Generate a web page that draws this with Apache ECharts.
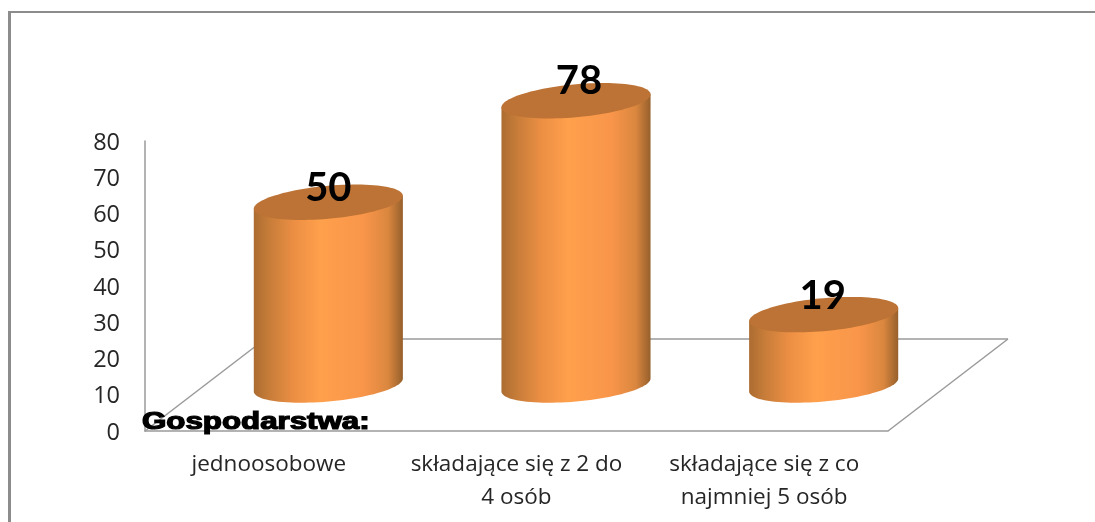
<!DOCTYPE html>
<html>
<head>
<meta charset="utf-8">
<style>html,body{margin:0;padding:0;background:#fff}#c{width:1095px;height:522px}</style>
<script src="https://cdn.jsdelivr.net/npm/echarts@6/dist/echarts.min.js"></script>
</head>
<body>
<div id="c"></div>
<script>
const categories = ['jednoosobowe', 'składające się z 2 do\n4 osób', 'składające się z co\nnajmniej 5 osób'];
const values = [50, 78, 19];
const tickMax = 80;
const tickStep = 10;
const heading = 'Gospodarstwa:';

const GREY = '#8c8c8c';
const LINE_GREY = '#9a9a9a';
const DEPTH_X = 120, DEPTH_Y = 92;   // floor parallelogram depth
const BAR_DX = 59.5, BAR_DY = 46;    // cylinder base offset from the axis point
const TOP_LIFT = 1.5;                // extra lift of the cylinder top
const TILT = 6.5, MINOR = 16.5;      // top ellipse shape
const LABEL_NUDGE = [[0, -14.5], [3, -19.5], [-1, -18.5]]; // value label offset per cylinder

function ringPoint(cx, cy, a, t) {
  return [cx + a * Math.cos(t), cy + MINOR * Math.sin(t) - TILT * Math.cos(t)];
}
function arc(cx, cy, a, from, to, n) {
  const pts = [];
  for (let i = 0; i <= n; i++) pts.push(ringPoint(cx, cy, a, from + (to - from) * i / n));
  return pts;
}

const chart = echarts.init(document.getElementById('c'), null, {renderer: 'canvas'});
chart.setOption({
  animation: false,
  backgroundColor: '#fff',
  grid: {left: 145, right: 207, top: 141, bottom: 91},
  xAxis: {
    type: 'category', data: categories,
    axisLine: {lineStyle: {color: LINE_GREY, width: 1.5}},
    axisTick: {show: false},
    axisLabel: {margin: 17, color: '#262626', fontFamily: 'Open Sans', fontSize: 22.5, lineHeight: 33, interval: 0}
  },
  yAxis: {
    type: 'value', min: 0, max: tickMax, interval: tickStep,
    splitLine: {show: false},
    axisLine: {show: true, lineStyle: {color: LINE_GREY, width: 1.5}},
    axisTick: {show: false},
    axisLabel: {margin: 25, color: '#262626', fontFamily: 'Open Sans', fontSize: 23.5, verticalAlign: 'top', lineHeight: 4}
  },
  graphic: [
    {type: 'rect', z: 0, shape: {x: 8, y: 11, width: 3, height: 511}, style: {fill: GREY}},
    {type: 'rect', z: 0, shape: {x: 8, y: 11, width: 1087, height: 2}, style: {fill: GREY}},
    {type: 'text', z: 50, x: 142, y: 411, scaleX: 1.36, scaleY: 1,
      style: {text: heading, fill: '#000', stroke: '#000', lineWidth: 1.2,
        font: 'bold 23px "Liberation Sans"'}}
  ],
  series: [
    {
      type: 'custom', coordinateSystem: 'cartesian2d', silent: true, z: 1,
      data: [[0, 0]],
      renderItem(params, api) {
        const g = params.coordSys;
        const bottom = g.y + g.height, right = g.x + g.width;
        const line = (x1, y1, x2, y2) => ({type: 'line', shape: {x1, y1, x2, y2},
          style: {stroke: LINE_GREY, lineWidth: 1.5}});
        return {type: 'group', children: [
          line(g.x, bottom, g.x + DEPTH_X, bottom - DEPTH_Y),
          line(g.x + DEPTH_X, bottom - DEPTH_Y, right + DEPTH_X, bottom - DEPTH_Y),
          line(right + DEPTH_X, bottom - DEPTH_Y, right, bottom)
        ]};
      }
    },
    {
      type: 'custom', coordinateSystem: 'cartesian2d', silent: true, z: 3,
      encode: {x: 0, y: 1},
      data: values.map((v, i) => [i, v]),
      renderItem(params, api) {
        const i = api.value(0), v = api.value(1);
        const base = api.coord([i, 0]);
        const top = api.coord([i, v]);
        const a = api.size([1, 0])[0] * 0.602 / 2;
        const cx = base[0] + BAR_DX, by = base[1] - BAR_DY, ty = top[1] - BAR_DY - TOP_LIFT;
        const body = [ringPoint(cx, ty, a, Math.PI)]
          .concat(arc(cx, by, a, Math.PI, 0, 48))
          .concat([ringPoint(cx, ty, a, 0)]);
        return {type: 'group', children: [
          {type: 'polygon', shape: {points: body}, style: {fill: {
            type: 'linear', x: 0, y: 0, x2: 1, y2: 0,
            colorStops: [
              {offset: 0, color: '#AC6C31'},
              {offset: 0.1, color: '#C67C39'},
              {offset: 0.28, color: '#EE9044'},
              {offset: 0.45, color: '#FFA04C'},
              {offset: 0.74, color: '#F8954A'},
              {offset: 0.9, color: '#DB873F'},
              {offset: 1, color: '#96602C'}
            ]}}},
          {type: 'polygon', shape: {points: arc(cx, ty, a, 0, Math.PI * 2, 96)},
            style: {fill: '#BC7335'}},
          {type: 'text', z2: 10, style: {
            text: String(v), x: cx + LABEL_NUDGE[i][0], y: ty + LABEL_NUDGE[i][1],
            align: 'center', verticalAlign: 'middle',
            fill: '#000', font: 'bold 40px Lato'}}
        ]};
      }
    }
  ]
});
</script>
</body>
</html>
